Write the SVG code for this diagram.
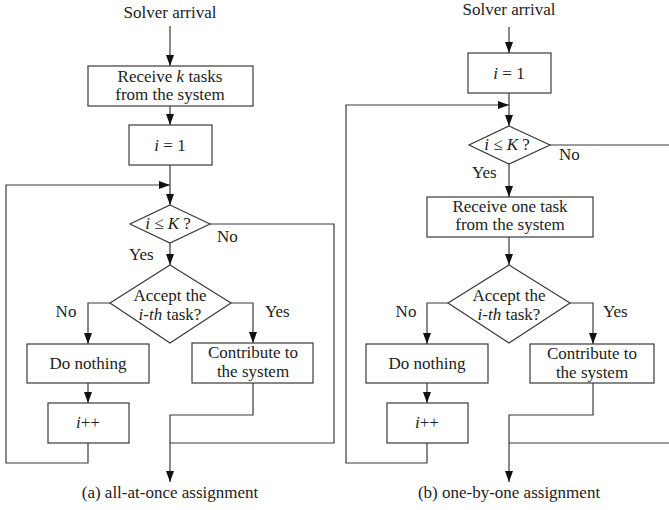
<svg xmlns="http://www.w3.org/2000/svg" width="669" height="510" viewBox="0 0 669 510">
<style>
text{font-family:"Liberation Serif","Times New Roman",serif;font-size:17px;fill:#222}
.c{text-anchor:middle}
.box{fill:#fff;stroke:#3a3a3a;stroke-width:1.2}
.ln{fill:none;stroke:#3a3a3a;stroke-width:1.2}
.ar{marker-end:url(#ah)}
</style>
<defs>
<marker id="ah" markerUnits="userSpaceOnUse" markerWidth="12" markerHeight="8" refX="11" refY="4" orient="auto">
<path d="M0,0 L11,4 L0,8 z" fill="#111"/>
</marker>
</defs>
<rect width="669" height="510" fill="#fff"/>
<g id="connectors">
<!-- panel a -->
<path class="ln ar" d="M170,26 V66"/>
<path class="ln ar" d="M170,106 V125"/>
<path class="ln ar" d="M170,165 V205"/>
<path class="ln ar" d="M88,443 V463 H6 V185 H170"/>
<path class="ln" d="M210,224 H334 V443 H170"/>
<path class="ln ar" d="M170,243 V265"/>
<path class="ln ar" d="M110,303 H88 V344"/>
<path class="ln ar" d="M231,303 H253 V343"/>
<path class="ln ar" d="M88,383 V403"/>
<path class="ln ar" d="M253,383 V415 H170 V482"/>
<!-- panel b -->
<path class="ln ar" d="M509,27 V53"/>
<path class="ln ar" d="M509,93 V126"/>
<path class="ln ar" d="M427,443 V463 H346 V105 H509"/>
<path class="ln" d="M550,145 H690 V443 H509"/>
<path class="ln ar" d="M509,164 V197"/>
<path class="ln ar" d="M509,237 V265"/>
<path class="ln ar" d="M448,303 H427 V344"/>
<path class="ln ar" d="M570,303 H593 V344"/>
<path class="ln ar" d="M427,383 V403"/>
<path class="ln ar" d="M593,383 V415 H509 V482"/>
</g>
<g id="a-start"><text class="c" x="170" y="18">Solver arrival</text></g>
<g id="a-receive"><rect class="box" x="88" y="66" width="165" height="40"/>
<text class="c" x="170" y="82">Receive <tspan font-style="italic">k</tspan> tasks</text>
<text class="c" x="170" y="100">from the system</text></g>
<g id="a-init"><rect class="box" x="129" y="125" width="83" height="40"/>
<text class="c" x="170" y="151"><tspan font-style="italic">i</tspan> = 1</text></g>
<g id="a-check"><polygon class="box" points="170,205 210,224 170,243 130,224"/>
<text class="c" x="168" y="229"><tspan font-style="italic">i</tspan> ≤ <tspan font-style="italic">K</tspan> ?</text>
<text x="217" y="242">No</text>
<text x="129" y="260">Yes</text></g>
<g id="a-accept"><polygon class="box" points="170,265 231,303 170,343 110,303"/>
<text class="c" x="170" y="301">Accept the</text>
<text class="c" x="170" y="320"><tspan font-style="italic">i-th</tspan> task?</text>
<text class="c" x="66" y="317">No</text>
<text x="265" y="317">Yes</text></g>
<g id="a-nothing"><rect class="box" x="27" y="344" width="122" height="39"/>
<text class="c" x="88" y="369">Do nothing</text></g>
<g id="a-inc"><rect class="box" x="48" y="403" width="81" height="40"/>
<text class="c" x="88" y="428"><tspan font-style="italic">i</tspan>++</text></g>
<g id="a-contribute"><rect class="box" x="192" y="343" width="121" height="40"/>
<text class="c" x="253" y="358">Contribute to</text>
<text class="c" x="253" y="377">the system</text></g>
<g id="a-caption"><text class="c" x="170" y="498">(a) all-at-once assignment</text></g>

<g id="b-start"><text class="c" x="509" y="15">Solver arrival</text></g>
<g id="b-init"><rect class="box" x="468" y="53" width="83" height="40"/>
<text class="c" x="509" y="79"><tspan font-style="italic">i</tspan> = 1</text></g>
<g id="b-check"><polygon class="box" points="509,126 550,145 509,164 469,145"/>
<text class="c" x="507" y="150"><tspan font-style="italic">i</tspan> ≤ <tspan font-style="italic">K</tspan> ?</text>
<text x="559" y="160">No</text>
<text x="472" y="178">Yes</text></g>
<g id="b-receive"><rect class="box" x="427" y="197" width="166" height="40"/>
<text class="c" x="510" y="212">Receive one task</text>
<text class="c" x="510" y="230">from the system</text></g>
<g id="b-accept"><polygon class="box" points="509,265 570,303 509,343 448,303"/>
<text class="c" x="509" y="301">Accept the</text>
<text class="c" x="509" y="320"><tspan font-style="italic">i-th</tspan> task?</text>
<text class="c" x="406" y="317">No</text>
<text x="603" y="317">Yes</text></g>
<g id="b-nothing"><rect class="box" x="366" y="344" width="122" height="39"/>
<text class="c" x="427" y="369">Do nothing</text></g>
<g id="b-inc"><rect class="box" x="387" y="403" width="81" height="40"/>
<text class="c" x="427" y="428"><tspan font-style="italic">i</tspan>++</text></g>
<g id="b-contribute"><rect class="box" x="530" y="344" width="124" height="39"/>
<text class="c" x="592" y="359">Contribute to</text>
<text class="c" x="592" y="378">the system</text></g>
<g id="b-caption"><text class="c" x="509" y="498">(b) one-by-one assignment</text></g>
</svg>
